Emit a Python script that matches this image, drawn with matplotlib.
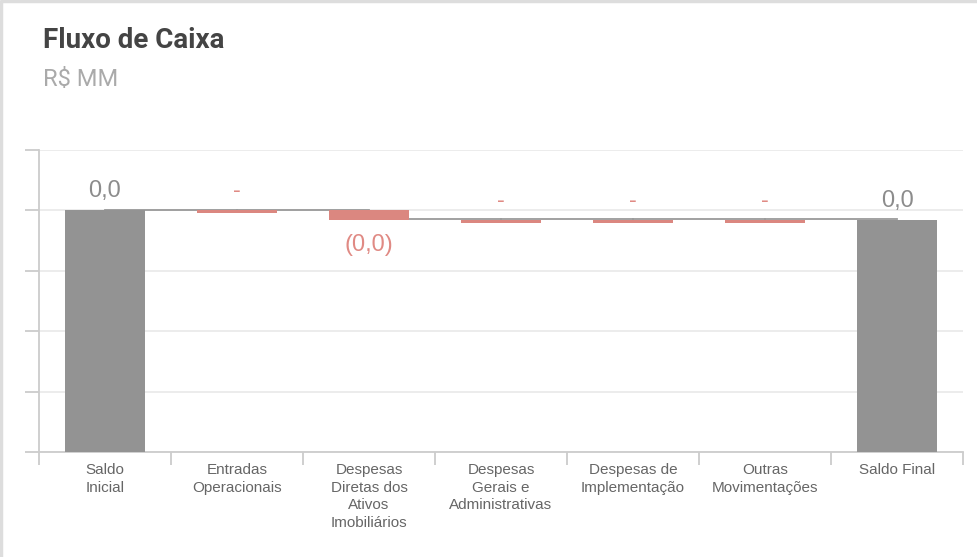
import numpy as np
import matplotlib.pyplot as plt
from matplotlib.lines import Line2D

# data (R$ MM)
categorias = ["Saldo\nInicial", "Entradas\nOperacionais", "Despesas\nDiretas dos\nAtivos\nImobiliários",
              "Despesas\nGerais e\nAdministrativas", "Despesas de\nImplementação", "Outras\nMovimentações",
              "Saldo Final"]
saldo_inicial = 0.040
variacoes = [0.0, -0.0016, 0.0, 0.0, 0.0]
rotulos = ["0,0", "-", "(0,0)", "-", "-", "-", "0,0"]

cinza = "#939393"
vermelho = "#db8780"
min_h = 0.00045  # altura minima de barras zeradas

fig = plt.figure(figsize=(9.77, 5.57), dpi=100)
# borda (so em cima e a esquerda)
fig.lines.append(Line2D([0.001, 0.001, 1.0], [0.0, 0.998, 0.998], transform=fig.transFigure,
                        color="#dddddd", linewidth=2.5))
ax = fig.add_axes([0.0399, 0.1885, 0.9458, 0.5422])

n = len(categorias)
x = np.arange(n)
largura = 0.6

# niveis acumulados
niveis = [saldo_inicial]
for v in variacoes:
    niveis.append(niveis[-1] + v)
saldo_final = niveis[-1]

# barras
ax.bar(x[0], saldo_inicial, largura, color=cinza, zorder=3)
ax.bar(x[-1], saldo_final, largura, color=cinza, zorder=3)
for i, v in enumerate(variacoes):
    base = niveis[i]
    h = v if v != 0 else -min_h
    ax.bar(x[i + 1], h, largura, bottom=base, color=vermelho, zorder=3)

# conectores
for i in range(n - 1):
    nivel = niveis[i] if i < len(niveis) else saldo_final
    ax.plot([x[i], x[i + 1]], [nivel + 0.00012, nivel + 0.00012], color="#9a9a9a", lw=1.3, zorder=2)

# rotulos
fs = 17
off = 0.0014
ax.text(x[0], saldo_inicial + off, rotulos[0], ha="center", va="bottom", fontsize=fs,
        color="#8c8c8c", family="Liberation Sans")
ax.text(x[-1], saldo_final + off, rotulos[-1], ha="center", va="bottom", fontsize=fs,
        color="#8c8c8c", family="Liberation Sans")
for i, v in enumerate(variacoes):
    if v < 0:
        ax.text(x[i + 1], niveis[i + 1] - 0.0023, rotulos[i + 1], ha="center", va="top",
                fontsize=fs, color="#e08a84", family="Liberation Sans")
    else:
        ax.text(x[i + 1], niveis[i] + off, rotulos[i + 1], ha="center", va="bottom",
                fontsize=fs, color="#e08a84", family="Liberation Sans")

ax.set_xlim(-0.5, n - 0.5)
ax.set_ylim(0, 0.05)
ax.set_yticks(np.arange(0, 0.051, 0.01))
ax.set_yticklabels([])
ax.grid(axis="y", color="#ebebeb", lw=1.3, zorder=0)

ax.set_xticks(x)
ax.set_xticklabels(categorias, fontsize=11, color="#666666", family="Liberation Sans", linespacing=1.32)
ax.set_xticks(np.arange(-0.5, n, 1.0), minor=True)
ax.tick_params(axis="x", which="major", length=0, pad=8)
ax.tick_params(axis="x", which="minor", length=9, color="#cccccc", width=1.3)
ax.tick_params(axis="y", length=10, color="#cccccc", width=1.3)

for s in ["top", "right"]:
    ax.spines[s].set_visible(False)
ax.spines["left"].set_color("#cccccc")
ax.spines["bottom"].set_color("#cccccc")
ax.spines["left"].set_linewidth(1.3)
ax.spines["bottom"].set_linewidth(1.3)

fig.text(43 / 977, 1 - 48 / 557, "Fluxo de Caixa", fontsize=20, fontweight="bold",
         color="#444444", family="Roboto")
fig.text(43 / 977, 1 - 86 / 557, "R$ MM", fontsize=17, color="#aaaaaa", family="Roboto")

fig.savefig("out.png", dpi=100)
